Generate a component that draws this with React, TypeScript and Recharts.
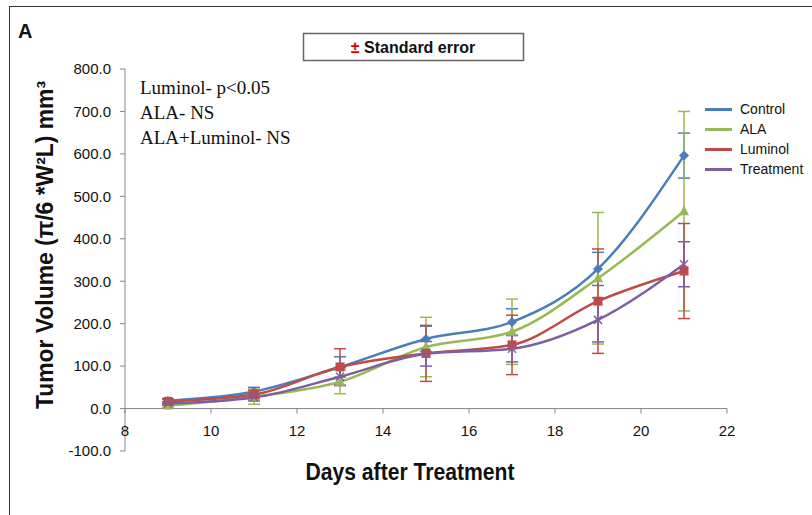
import React from 'react';
import {
  LineChart,
  Line,
  XAxis,
  YAxis,
  ErrorBar,
  ReferenceLine,
} from 'recharts';

// days after treatment
const days = [9, 11, 13, 15, 17, 19, 21];

// mean tumour volume (mm³) and standard error per group
const control = [18, 40, 98, 164, 204, 329, 596];
const controlSe = [5, 10, 24, 30, 31, 39, 53];
const ala = [7, 28, 63, 145, 181, 307, 465];
const alaSe = [4, 18, 28, 70, 77, 155, 235];
const luminol = [17, 33, 98, 130, 150, 253, 324];
const luminolSe = [5, 10, 43, 66, 70, 123, 112];
const treatment = [12, 26, 75, 129, 141, 209, 340];
const treatmentSe = [4, 8, 21, 29, 31, 52, 53];

const xTicks = [8, 10, 12, 14, 16, 18, 20, 22];
const yTicks = [-100, 0, 100, 200, 300, 400, 500, 600, 700, 800];
const Y_MIN = -100;
const Y_MAX = 800;

const annotations = ['Luminol- p<0.05', 'ALA- NS', 'ALA+Luminol- NS'];

const COLORS = {
  control: '#4A7EBB',
  ala: '#98B954',
  luminol: '#BE4B48',
  treatment: '#7D5FA0',
};

const series = [
  { key: 'control', name: 'Control', color: COLORS.control, shape: 'diamond' },
  { key: 'ala', name: 'ALA', color: COLORS.ala, shape: 'triangle' },
  { key: 'luminol', name: 'Luminol', color: COLORS.luminol, shape: 'square' },
  { key: 'treatment', name: 'Treatment', color: COLORS.treatment, shape: 'x' },
];

const data = days.map((d, i) => ({
  day: d,
  control: control[i],
  controlSe: controlSe[i],
  ala: ala[i],
  alaSe: alaSe[i],
  luminol: luminol[i],
  luminolSe: luminolSe[i],
  treatment: treatment[i],
  treatmentSe: treatmentSe[i],
}));

// chart geometry
const W = 812;
const H = 515;
const M = { top: 69, right: 85, bottom: 64, left: 125 };
const PLOT_H = H - M.top - M.bottom;
const AXIS_W = 60;
const X_AXIS_H = 30;
// distance from the bottom of the plot up to the zero line
const ZERO_OFFSET = (PLOT_H * (0 - Y_MIN)) / (Y_MAX - Y_MIN);

const FONT = '"Liberation Sans", Arial, sans-serif';

function makeDot(shape: string, color: string) {
  return (props: any) => {
    const { cx, cy, index } = props;
    if (cx == null || cy == null) return <g key={index} />;
    if (shape === 'diamond') {
      return (
        <polygon
          key={index}
          points={`${cx},${cy - 5} ${cx + 5},${cy} ${cx},${cy + 5} ${cx - 5},${cy}`}
          fill={color}
        />
      );
    }
    if (shape === 'triangle') {
      return (
        <polygon
          key={index}
          points={`${cx},${cy - 6} ${cx + 5},${cy + 4} ${cx - 5},${cy + 4}`}
          fill={color}
        />
      );
    }
    if (shape === 'square') {
      return <rect key={index} x={cx - 4.5} y={cy - 4.5} width={9} height={9} fill={color} />;
    }
    return (
      <g key={index} stroke={color} strokeWidth={1.5}>
        <line x1={cx - 4} y1={cy - 4} x2={cx + 4} y2={cy + 4} />
        <line x1={cx - 4} y1={cy + 4} x2={cx + 4} y2={cy - 4} />
      </g>
    );
  };
}

// x ticks sit on the zero line, not on the plot's bottom edge
function DayTick(props: any) {
  const { x, payload } = props;
  const y0 = M.top + PLOT_H - ZERO_OFFSET;
  return (
    <g>
      <line x1={x} y1={y0} x2={x} y2={y0 + 5} stroke="#868686" strokeWidth={1} />
      <text x={x} y={y0 + 27} textAnchor="middle" fontSize={15} fontFamily={FONT} fill="#111">
        {payload.value}
      </text>
    </g>
  );
}

function LegendBox() {
  return (
    <div style={{ position: 'absolute', left: 705, top: 99, fontFamily: FONT, fontSize: 14, color: '#111' }}>
      {series.map((s) => (
        <div key={s.key} style={{ display: 'flex', alignItems: 'center', height: 20 }}>
          <span
            style={{ display: 'inline-block', width: 27, height: 3, background: s.color, marginRight: 8 }}
          />
          <span>{s.name}</span>
        </div>
      ))}
    </div>
  );
}

export default function App() {
  return (
    <div style={{ position: 'absolute', left: 0, top: 0, width: W, height: H, background: '#fff', overflow: 'hidden' }}>
      {/* panel frame */}
      <div
        style={{
          position: 'absolute',
          left: 9,
          top: 6,
          width: 900,
          height: 600,
          border: '1.5px solid #333',
        }}
      />
      <LineChart
        width={W}
        height={H}
        data={data}
        margin={{ top: M.top, right: M.right, bottom: M.bottom - X_AXIS_H, left: M.left - AXIS_W }}
      >
        <XAxis
          dataKey="day"
          type="number"
          domain={[8, 22]}
          ticks={xTicks}
          axisLine={false}
          tickLine={false}
          tick={<DayTick />}
          height={X_AXIS_H}
        />
        <YAxis
          type="number"
          domain={[Y_MIN, Y_MAX]}
          ticks={yTicks}
          width={AXIS_W}
          tickFormatter={(v: number) => v.toFixed(1)}
          tick={{ fill: '#111', fontSize: 15, fontFamily: FONT }}
          axisLine={{ stroke: '#868686' }}
          tickLine={{ stroke: '#868686' }}
          tickSize={5}
          tickMargin={9}
        />
        <ReferenceLine y={0} stroke="#868686" strokeWidth={1} />
        {series.map((s) => (
          <Line
            key={s.key}
            type="monotone"
            dataKey={s.key}
            name={s.name}
            stroke={s.color}
            strokeWidth={2.5}
            dot={makeDot(s.shape, s.color)}
            activeDot={false}
            isAnimationActive={false}
          >
            <ErrorBar dataKey={`${s.key}Se`} direction="y" width={6} stroke={s.color} strokeWidth={1.5} />
          </Line>
        ))}
      </LineChart>

      <LegendBox />

      {/* text overlay */}
      <svg width={W} height={H} style={{ position: 'absolute', left: 0, top: 0, pointerEvents: 'none' }}>
        <text x={18} y={38} fontFamily={FONT} fontWeight="bold" fontSize={20} fill="#111">
          A
        </text>
        <rect x={303.5} y={33.5} width={220} height={27} fill="#fff" stroke="#666" strokeWidth={1.5} />
        <text x={413} y={53} textAnchor="middle" fontFamily={FONT} fontWeight="bold" fontSize={16} fill="#111">
          <tspan fill="#e00000">±</tspan> Standard error
        </text>
        {annotations.map((t, i) => (
          <text key={t} x={140} y={94 + i * 25} fontFamily='"Liberation Serif", "Times New Roman", serif' fontSize={19} fill="#111">
            {t}
          </text>
        ))}
        <text
          x={0}
          y={0}
          transform="translate(53, 245) rotate(-90)"
          textAnchor="middle"
          fontFamily={FONT}
          fontWeight="bold"
          fontSize={23}
          textLength={328}
          lengthAdjust="spacingAndGlyphs"
          fill="#111"
        >
          Tumor Volume (π/6 *W²L) mm³
        </text>
        <text
          x={410}
          y={480}
          textAnchor="middle"
          fontFamily={FONT}
          fontWeight="bold"
          fontSize={23}
          textLength={209}
          lengthAdjust="spacingAndGlyphs"
          fill="#111"
        >
          Days after Treatment
        </text>
      </svg>
    </div>
  );
}
